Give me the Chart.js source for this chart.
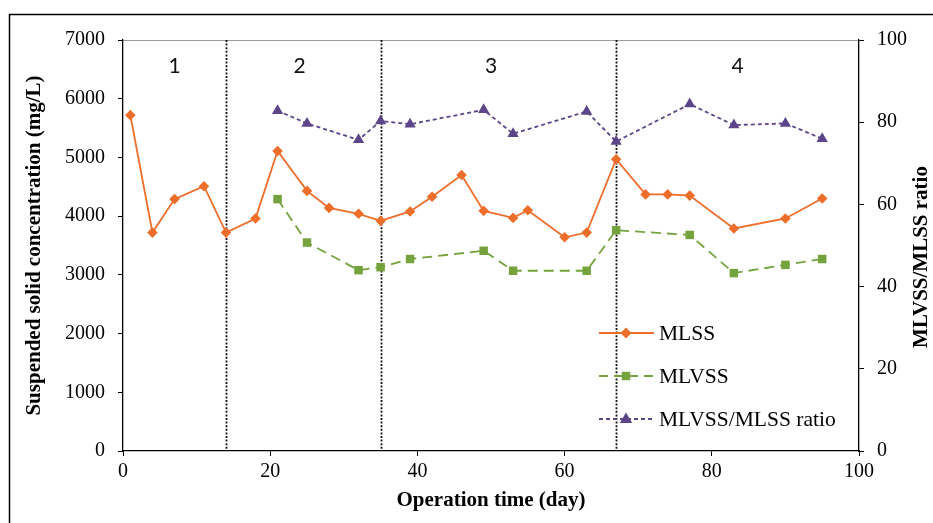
<!DOCTYPE html>
<html>
<head>
<meta charset="utf-8">
<script src="https://cdn.jsdelivr.net/npm/chart.js@4.4.1/dist/chart.umd.min.js"></script>
<style>
    body { margin: 0; background: #fff; }
    .wrap { width: 933px; height: 523px; position: relative; }
</style>
</head>
<body>
<div class="wrap"><canvas id="solidsChart"></canvas></div>
<script>
// MLSS readings (day, mg/L)
const mlssDays = [1, 4, 7, 11, 14, 18, 21, 25, 28, 32, 35, 39, 42, 46, 49, 53, 55, 60, 63, 67, 71, 74, 77, 83, 90, 95];
const mlss = [5720, 3720, 4290, 4510, 3720, 3960, 5110, 4430, 4140, 4040, 3920, 4080, 4330, 4700, 4090, 3970, 4100, 3640, 3720, 4970, 4370, 4370, 4350, 3790, 3960, 4300];

// MLVSS readings and the ratio share the same days
const mlvssDays = [21, 25, 32, 35, 39, 49, 53, 63, 67, 77, 83, 90, 95];
const mlvss = [4290, 3550, 3080, 3130, 3270, 3410, 3070, 3070, 3760, 3680, 3030, 3170, 3270];
const ratio = [82.8, 79.7, 75.7, 80.3, 79.5, 83.0, 77.2, 82.6, 75.3, 84.4, 79.3, 79.7, 76.0];

// operation phases
const phaseBreaks = [14, 35, 67];
const phaseNames = ['1', '2', '3', '4'];
const phaseCenters = [7, 24, 50, 83.5];

const xTicks = [0, 20, 40, 60, 80, 100];

const ORANGE = '#ed6d2a';
const GREEN = '#74a23c';
const PURPLE = '#5d4589';
const SERIF = "'Liberation Serif', 'Times New Roman', serif";

const pairs = (xs, ys) => xs.map((x, i) => ({ x: x, y: ys[i] }));

function marker(ctx, style, x, y, r, color) {
    ctx.fillStyle = color;
    ctx.beginPath();
    if (style === 'rectRot') {
        ctx.moveTo(x, y - r); ctx.lineTo(x + r, y); ctx.lineTo(x, y + r); ctx.lineTo(x - r, y);
    } else if (style === 'rect') {
        const s = r * Math.SQRT1_2;
        ctx.rect(x - s, y - s, 2 * s, 2 * s);
    } else {
        ctx.moveTo(x, y - r); ctx.lineTo(x + r * 0.95, y + r * 0.6); ctx.lineTo(x - r * 0.95, y + r * 0.6);
    }
    ctx.closePath();
    ctx.fill();
}

const legendRows = [
    { label: 'MLSS', color: ORANGE, dash: [], style: 'rectRot', r: 5.5 },
    { label: 'MLVSS', color: GREEN, dash: [9, 6], style: 'rect', r: 6 },
    { label: 'MLVSS/MLSS ratio', color: PURPLE, dash: [4, 3], style: 'triangle', r: 6.5 }
];

const extras = {
    id: 'extras',
    beforeDraw(chart) {
        const ctx = chart.ctx;
        const a = chart.chartArea;
        ctx.save();
        ctx.fillStyle = '#fff';
        ctx.fillRect(0, 0, chart.width, chart.height);
        // outer frame, only top and left edges are in the picture
        ctx.strokeStyle = '#000';
        ctx.lineWidth = 1.5;
        ctx.beginPath();
        ctx.moveTo(9.5, chart.height);
        ctx.lineTo(9.5, 14.5);
        ctx.lineTo(chart.width, 14.5);
        ctx.stroke();
        // grey top edge of the plot
        ctx.strokeStyle = '#9a9a9a';
        ctx.lineWidth = 1.2;
        ctx.beginPath();
        ctx.moveTo(a.left, a.top + 0.5);
        ctx.lineTo(a.right, a.top + 0.5);
        ctx.stroke();
        ctx.restore();
    },
    beforeDatasetsDraw(chart) {
        const ctx = chart.ctx;
        const a = chart.chartArea;
        const xs = chart.scales.x;
        ctx.save();
        ctx.strokeStyle = '#111';
        ctx.lineWidth = 1.8;
        ctx.setLineDash([2, 1.6]);
        phaseBreaks.forEach(d => {
            const px = Math.round(xs.getPixelForValue(d)) + 0.5;
            ctx.beginPath();
            ctx.moveTo(px, a.top);
            ctx.lineTo(px, a.bottom);
            ctx.stroke();
        });
        ctx.restore();
    },
    afterDraw(chart) {
        const ctx = chart.ctx;
        const xs = chart.scales.x;
        ctx.save();
        // phase numbers
        ctx.fillStyle = '#111';
        ctx.font = "21px Lato, 'Liberation Sans', sans-serif";
        ctx.textAlign = 'center';
        ctx.textBaseline = 'middle';
        phaseNames.forEach((n, i) => {
            ctx.fillText(n, xs.getPixelForValue(phaseCenters[i]), 66);
        });

        // right axis title, reads bottom to top
        ctx.save();
        ctx.translate(922, 257);
        ctx.rotate(-Math.PI / 2);
        ctx.font = 'bold 21px ' + SERIF;
        ctx.fillStyle = '#000';
        ctx.fillText('MLVSS/MLSS ratio', 0, 0);
        ctx.restore();

        // legend
        ctx.font = '21.5px ' + SERIF;
        ctx.textAlign = 'left';
        legendRows.forEach((row, i) => {
            const y = 333 + i * 43;
            ctx.strokeStyle = row.color;
            ctx.lineWidth = 1.8;
            ctx.setLineDash(row.dash);
            ctx.beginPath();
            ctx.moveTo(599, y);
            ctx.lineTo(654, y);
            ctx.stroke();
            ctx.setLineDash([]);
            marker(ctx, row.style, 626, y, row.r, row.color);
            ctx.fillStyle = '#000';
            ctx.fillText(row.label, 659, y + 1);
        });
        ctx.restore();
    }
};

const tickFont = { family: SERIF, size: 20 };

new Chart(document.getElementById('solidsChart'), {
    type: 'line',
    data: {
        datasets: [{
            label: 'MLSS',
            data: pairs(mlssDays, mlss),
            yAxisID: 'y',
            borderColor: ORANGE,
            backgroundColor: ORANGE,
            borderWidth: 1.8,
            pointStyle: 'rectRot',
            pointRadius: 5.3,
            pointBorderWidth: 0,
            tension: 0
        }, {
            label: 'MLVSS',
            data: pairs(mlvssDays, mlvss),
            yAxisID: 'y',
            borderColor: GREEN,
            backgroundColor: GREEN,
            borderWidth: 1.8,
            borderDash: [10, 6],
            pointStyle: 'rect',
            pointRadius: 6,
            pointBorderWidth: 0,
            tension: 0
        }, {
            label: 'MLVSS/MLSS ratio',
            data: pairs(mlvssDays, ratio),
            yAxisID: 'y1',
            borderColor: PURPLE,
            backgroundColor: PURPLE,
            borderWidth: 1.8,
            borderDash: [4, 3],
            pointStyle: 'triangle',
            pointRadius: 6.5,
            pointBorderWidth: 0,
            tension: 0
        }]
    },
    options: {
        responsive: true,
        maintainAspectRatio: false,
        animation: false,
        layout: { padding: { top: 40, left: 0, right: 0, bottom: 0 } },
        scales: {
            x: {
                type: 'linear',
                min: 0,
                max: 100,
                afterFit: s => { s.height = 72; },
                afterBuildTicks: s => { s.ticks = xTicks.map(v => ({ value: v })); },
                grid: { drawOnChartArea: false, drawTicks: true, tickLength: 5, tickColor: '#000' },
                border: { display: true, color: '#000', width: 1.3 },
                ticks: { color: '#000', font: tickFont, padding: 4, maxRotation: 0 },
                title: {
                    display: true,
                    text: 'Operation time (day)',
                    color: '#000',
                    font: { family: SERIF, size: 21, weight: 'bold' },
                    padding: { top: 0, bottom: 10 }
                }
            },
            y: {
                position: 'left',
                min: 0,
                max: 7000,
                afterFit: s => { s.width = 123; },
                grid: { drawOnChartArea: false, drawTicks: true, tickLength: 5, tickColor: '#000' },
                border: { display: true, color: '#000', width: 1.3 },
                ticks: { stepSize: 1000, color: '#000', font: tickFont, padding: 13, callback: v => v },
                title: {
                    display: true,
                    text: 'Suspended solid concentration (mg/L)',
                    color: '#000',
                    font: { family: SERIF, size: 21, weight: 'bold' },
                    padding: { top: 22, bottom: 0 }
                }
            },
            y1: {
                position: 'right',
                min: 0,
                max: 100,
                afterFit: s => { s.width = 74; },
                grid: { drawOnChartArea: false, drawTicks: true, tickLength: 5, tickColor: '#000' },
                border: { display: true, color: '#000', width: 1.3 },
                ticks: { stepSize: 20, color: '#000', font: tickFont, padding: 13, callback: v => v }
            }
        },
        plugins: {
            legend: { display: false },
            tooltip: { enabled: false }
        }
    },
    plugins: [extras]
});
</script>
</body>
</html>
